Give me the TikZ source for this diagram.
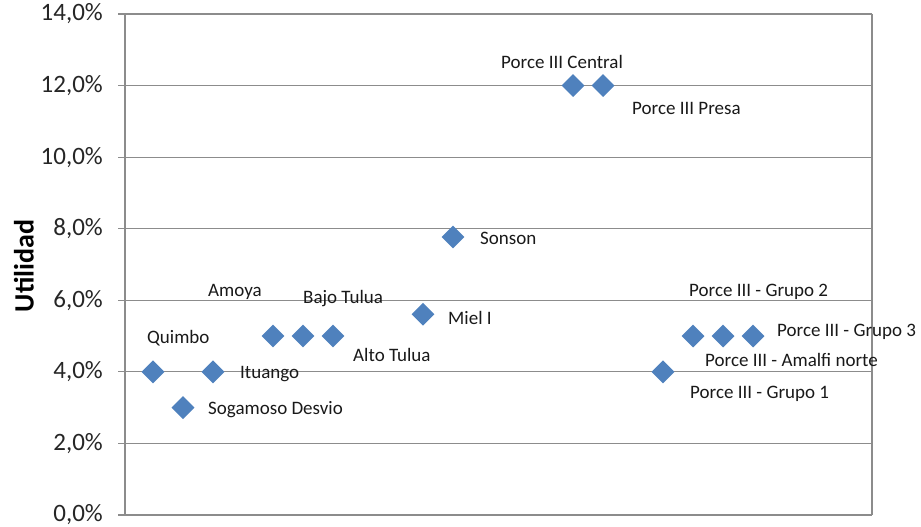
\documentclass[tikz,border=0pt]{standalone}
\usepackage{fontspec}
\setmainfont{Carlito}
\usetikzlibrary{shapes.geometric}
\definecolor{ptblue}{HTML}{4F81BD}
\definecolor{gridgray}{HTML}{8C8C8C}
\begin{document}
\begin{tikzpicture}[x=1pt,y=-1pt,
  gridline/.style={gridgray,line width=1.2pt},
  pt/.style={diamond,fill=ptblue,draw=none,minimum width=23pt,minimum height=23pt,inner sep=0pt},
  lbl/.style={anchor=west,inner sep=0pt,font=\fontsize{19}{19}\selectfont,text=black!90},
  tick/.style={anchor=east,inner sep=0pt,font=\fontsize{25}{25}\selectfont,text=black!85}]
\useasboundingbox (0,0) rectangle (921,527);
% grid and axes
\foreach \v/\t in {0/0,1/2,2/4,3/6,4/8,5/10,6/12,7/14}{
  \pgfmathsetmacro{\yy}{515-71.57*\v}
  \draw[gridline] (118,\yy) -- (872,\yy);
  \node[tick] (t\v) at (103,\yy) {\t,0\%};
}
\draw[gridline] (125,14) -- (125,515);
\draw[gridline] (872,14) -- (872,515);
\node[rotate=90,inner sep=0pt,font=\bfseries\fontsize{28}{28}\selectfont] (ylab) at (24,266) {Utilidad};
% points
\foreach \n/\i/\v in {quimbo/1/4, sogamoso/2/3, ituango/3/4, amoya/5/5, bajo/6/5, alto/7/5, miel/10/5.61, sonson/11/7.77, central/15/12, presa/16/12, g1/18/4, g2/19/5, amalfi/20/5, g3/21/5}{
  \pgfmathsetmacro{\yy}{515-35.785*\v}
  \pgfmathsetmacro{\xx}{123+30*\i}
  \node[pt] (\n) at (\xx,\yy) {};
}
% labels
\node[lbl] (lquimbo) at (147,338) {Quimbo};
\node[lbl] (lsogamoso) at (208,410) {Sogamoso Desvio};
\node[lbl] (lituango) at (240,374) {Ituango};
\node[lbl] (lamoya) at (208,292) {Amoya};
\node[lbl] (lbajo) at (303,299) {Bajo Tulua};
\node[lbl] (lalto) at (353,355) {Alto Tulua};
\node[lbl] (lmiel) at (448,318) {Miel I};
\node[lbl] (lsonson) at (480,238) {Sonson};
\node[lbl] (lcentral) at (501,62) {Porce III Central};
\node[lbl] (lpresa) at (632,108) {Porce III Presa};
\node[lbl] (lg2) at (689,292) {Porce III - Grupo 2};
\node[lbl] (lg3) at (777,332) {Porce III - Grupo 3};
\node[lbl] (lamalfi) at (705,360) {Porce III - Amalfi norte};
\node[lbl] (lg1) at (690,394) {Porce III - Grupo 1};
\end{tikzpicture}
\end{document}
